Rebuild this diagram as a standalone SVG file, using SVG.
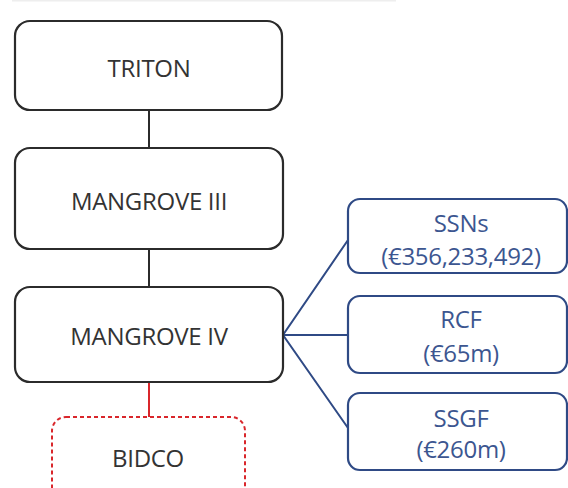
<svg xmlns="http://www.w3.org/2000/svg" width="568" height="488" viewBox="0 0 568 488">
<style>
.blk{fill:#fff;stroke:#2b2b2b;stroke-width:2.2}
.blu{fill:#fff;stroke:#2f4a85;stroke-width:2.2}
.red{fill:#fff;stroke:#d9262b;stroke-width:2;stroke-dasharray:4 3}
.t{font-family:"Open Sans","Liberation Sans",sans-serif;font-size:24px;text-anchor:middle;dominant-baseline:central;letter-spacing:-0.3px}
.tk{fill:#333}
.tb{fill:#3c5690}
</style>
<rect x="12" y="0" width="384" height="1.5" fill="#eeeeee"/>
<g id="connectors" fill="none">
<line x1="149" y1="110" x2="149" y2="148" stroke="#2b2b2b" stroke-width="2"/>
<line x1="149" y1="249" x2="149" y2="287" stroke="#2b2b2b" stroke-width="2"/>
<line x1="149" y1="382" x2="149" y2="417" stroke="#d9262b" stroke-width="2"/>
<polyline points="348,240 283,335 348,428" stroke="#2f4a85" stroke-width="2"/>
<line x1="283" y1="335" x2="348" y2="335" stroke="#2f4a85" stroke-width="2"/>
</g>
<g id="triton"><rect class="blk" x="15" y="21" width="267" height="89" rx="15"/><text class="t tk" x="149" y="67">TRITON</text></g>
<g id="mangrove3"><rect class="blk" x="15" y="148" width="268" height="101" rx="15"/><text class="t tk" x="149" y="200">MANGROVE III</text></g>
<g id="mangrove4"><rect class="blk" x="15" y="287" width="268" height="95" rx="15"/><text class="t tk" x="149" y="335">MANGROVE IV</text></g>
<g id="bidco"><rect class="red" x="52" y="417" width="193" height="90" rx="14"/><text class="t tk" x="148" y="457">BIDCO</text></g>
<g id="ssns"><rect class="blu" x="348" y="199" width="219" height="74" rx="12"/><text class="t tb" x="461" y="222">SSNs</text><text class="t tb" x="461" y="255">(€356,233,492)</text></g>
<g id="rcf"><rect class="blu" x="348" y="296" width="219" height="77" rx="12"/><text class="t tb" x="461" y="318">RCF</text><text class="t tb" x="461" y="352">(€65m)</text></g>
<g id="ssgf"><rect class="blu" x="348" y="393" width="219" height="77" rx="12"/><text class="t tb" x="461" y="417">SSGF</text><text class="t tb" x="461" y="448">(€260m)</text></g>
</svg>
